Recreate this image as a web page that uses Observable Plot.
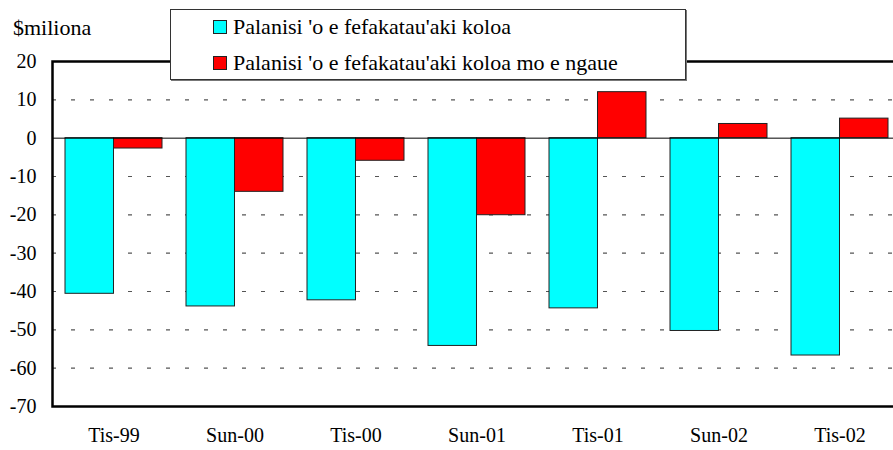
<!DOCTYPE html>
<html><head><meta charset="utf-8">
<script src="https://cdn.jsdelivr.net/npm/d3@7"></script>
<script src="https://cdn.jsdelivr.net/npm/@observablehq/plot@0.6"></script>
<style>
body{margin:0;background:#fff}
#wrap{position:relative;width:893px;height:450px;overflow:hidden;color:#000}
#unit{position:absolute;left:13px;top:15px;font-size:22px;font-family:'Liberation Serif';line-height:26px}
#legend{position:absolute;left:170px;top:9px;width:514px;height:69px;border:1px solid #333;box-shadow:1px 1px 0 #777;background:#fff;font-size:22px;font-family:'Liberation Serif'}
.row{position:absolute;left:42px;height:26px;line-height:26px;display:flex;align-items:center;white-space:nowrap}
.sw{width:12px;height:12px;border:1px solid #222;margin-right:6px;flex:none}
</style></head>
<body><div id="wrap"><div id="chart"></div><div id="unit">$miliona</div><div id="legend"></div></div>
<script>
const categories = ["Tis-99","Sun-00","Tis-00","Sun-01","Tis-01","Sun-02","Tis-02"];
const seriesNames = ["Palanisi 'o e fefakatau'aki koloa","Palanisi 'o e fefakatau'aki koloa mo e ngaue"];
const seriesColors = ["#00ffff","#ff0000"];
const goodsBalance = [-40.6,-43.9,-42.3,-54.2,-44.4,-50.3,-56.7];
const goodsServicesBalance = [-2.7,-14.0,-5.9,-20.1,12.0,3.7,5.1];
const yTicks = [20,10,0,-10,-20,-30,-40,-50,-60,-70];
const gridTicks = [10,-10,-20,-30,-40,-50,-60];

const rows = [];
categories.forEach((c,i)=>{
  rows.push({cat:c, series:seriesNames[0], value:goodsBalance[i]});
  rows.push({cat:c, series:seriesNames[1], value:goodsServicesBalance[i]});
});
const half = (893+8-52)/7*0.8/2;

const chart = Plot.plot({
  width:893, height:450,
  marginLeft:52, marginRight:-8, marginTop:61, marginBottom:44,
  style:{fontFamily:"Liberation Serif", fontSize:"20px", color:"#000", background:"transparent"},
  x:{domain:categories, paddingInner:0.2, paddingOuter:0.1, label:null, tickSize:0, tickPadding:21},
  y:{domain:[-70,20], ticks:yTicks, tickFormat:d=>String(d), label:null, tickSize:0, tickPadding:16},
  color:{domain:seriesNames, range:seriesColors},
  marks:[
    Plot.ruleY(gridTicks,{stroke:"#555", strokeDasharray:"4,15", strokeWidth:1.2}),
    Plot.barY(rows.filter(d=>d.series===seriesNames[0]),{x:"cat", y:"value", fill:"series", stroke:"#222", strokeWidth:1, insetRight:half}),
    Plot.barY(rows.filter(d=>d.series===seriesNames[1]),{x:"cat", y:"value", fill:"series", stroke:"#222", strokeWidth:1, insetLeft:half}),
    Plot.ruleY([0],{stroke:"#000", strokeWidth:1}),
    Plot.frame({stroke:"#000", strokeWidth:2.5})
  ]
});
document.getElementById("chart").appendChild(chart);

const leg = document.getElementById("legend");
seriesNames.forEach((n,i)=>{
  const r = document.createElement("div");
  r.className="row";
  r.style.top = (i===0?4:40)+"px";
  r.innerHTML = `<span class="sw" style="background:${seriesColors[i]}"></span><span>${n}</span>`;
  leg.appendChild(r);
});
</script></body></html>
